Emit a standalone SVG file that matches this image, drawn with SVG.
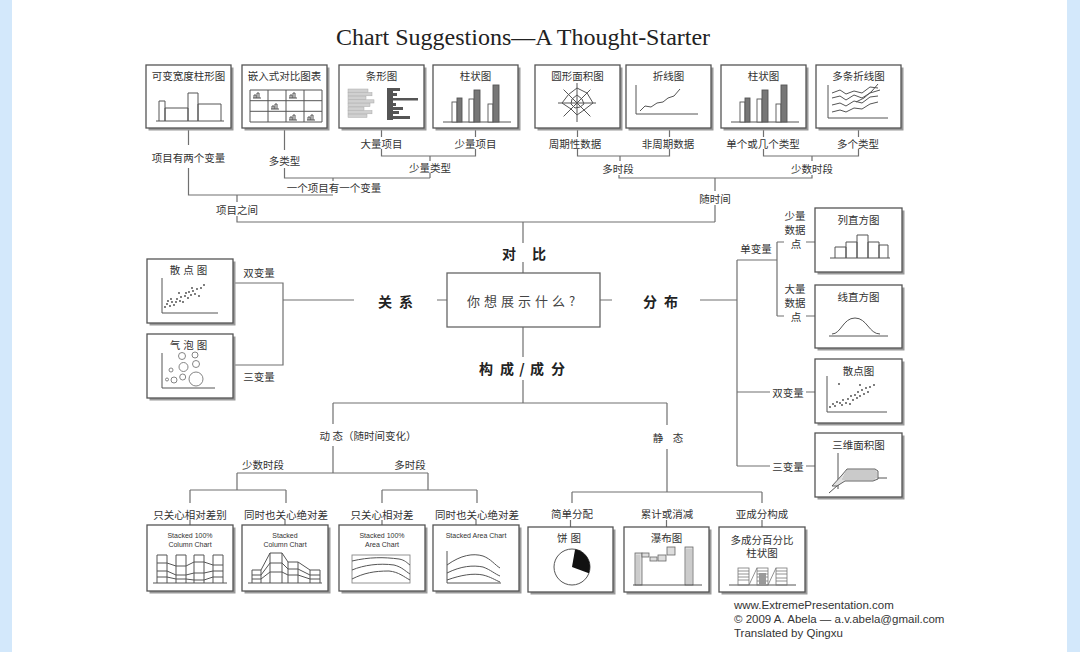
<svg xmlns="http://www.w3.org/2000/svg" width="1080" height="652" viewBox="0 0 1080 652">
<style>
.card{fill:#fff;stroke:#555;stroke-width:1.3}
.sh{fill:#9a9a9a}
.ln{fill:none;stroke:#707070;stroke-width:1.2}
.ic{fill:none;stroke:#555;stroke-width:1}
.lbl{font-family:"Noto Sans CJK SC","Noto Sans",sans-serif;font-size:10.5px;fill:#333;text-anchor:middle;dominant-baseline:central}
.bt{font-family:"Noto Sans CJK SC","Noto Sans",sans-serif;font-size:10.5px;fill:#333;text-anchor:middle;dominant-baseline:central}
.en{font-family:"Liberation Sans",sans-serif;font-size:7px;fill:#333;text-anchor:middle;dominant-baseline:central}
.cat{font-family:"Noto Sans CJK SC",sans-serif;font-size:14px;font-weight:bold;fill:#222;text-anchor:middle;dominant-baseline:central}
.dot{fill:#444}
.cr{font-family:"Liberation Sans",sans-serif;font-size:11.5px;fill:#333}
</style>
<rect width="1080" height="652" fill="#fff"/>
<rect x="0" y="0" width="12" height="652" fill="#d3e8fb"/>
<rect x="1067" y="0" width="13" height="652" fill="#d3e8fb"/>
<text x="523" y="45" text-anchor="middle" font-family="Liberation Serif,serif" font-size="24" fill="#222">Chart Suggestions—A Thought-Starter</text>

<g id="connectors">
<path class="ln" d="M188.5 128V145M188.5 168V195H333M284.5 128V150M284.5 168V178H430M381.5 128V137M381.5 149V156H475.5V149M475.5 128V137M430 156V161M430 173V178M333 178V181M237 195V202M237 216V222H715M523 222V243M523 262V273"/>
<path class="ln" d="M577.5 128V137M577.5 149V156H669.5V149M669.5 128V137M620 156V161M763.5 128V137M763.5 149V156H858.5V149M858.5 128V137M812 156V161M619 175V178H812V175M715 178V191M715 205V222"/>
<path class="ln" d="M523 327V357M523 380V403M333 403H667M333 403V424M333 446V473M237 473H428M237 473V490M190 490H286M190 490V503M286 490V503M428 473V490M382 490H477M382 490V503M477 490V503M190 520V525M285 520V525M382 520V525M476 520V525"/>
<path class="ln" d="M667 403V425M667 449V492M572 492H762M572 492V503M762 492V503M570.5 520V527M666.5 520V527M762 520V527"/>
<path class="ln" d="M233 283H283V365H233M283 300H354M437 300H447"/>
<path class="ln" d="M600 300H612M700 300H737M737 260V466M737 260H777M777 242V316M777 242H784M777 316H784M806 242H815M806 316H815M737 392H770M806 392H815M737 466H770M806 466H815"/>
</g>

<g id="labels">
<text class="lbl" x="188.5" y="157">项目有两个变量</text>
<text class="lbl" x="284.5" y="160">多类型</text>
<text class="lbl" x="381.5" y="143">大量项目</text>
<text class="lbl" x="475.5" y="143">少量项目</text>
<text class="lbl" x="430" y="167">少量类型</text>
<text class="lbl" x="334" y="187">一个项目有一个变量</text>
<text class="lbl" x="237" y="209">项目之间</text>
<text class="lbl" x="575" y="143">周期性数据</text>
<text class="lbl" x="668" y="143">非周期数据</text>
<text class="lbl" x="763" y="143">单个或几个类型</text>
<text class="lbl" x="858" y="143">多个类型</text>
<text class="lbl" x="618" y="168">多时段</text>
<text class="lbl" x="812" y="168">少数时段</text>
<text class="lbl" x="715" y="198">随时间</text>
<text class="cat"><tspan x="509" y="253">对</tspan><tspan x="539" y="253">比</tspan></text>
<text class="cat"><tspan x="385" y="301">关</tspan><tspan x="406" y="301">系</tspan></text>
<text class="cat"><tspan x="650" y="301">分</tspan><tspan x="671" y="301">布</tspan></text>
<text class="cat"><tspan x="486" y="368">构</tspan><tspan x="507" y="368">成</tspan><tspan x="522" y="368">/</tspan><tspan x="537" y="368">成</tspan><tspan x="558" y="368">分</tspan></text>
<text class="lbl" x="259" y="272">双变量</text>
<text class="lbl" x="259" y="376">三变量</text>
<text class="lbl" x="756" y="248">单变量</text>
<text class="lbl" x="795" y="215">少量</text>
<text class="lbl" x="795" y="229">数据</text>
<text class="lbl" x="796" y="243">点</text>
<text class="lbl" x="795" y="288">大量</text>
<text class="lbl" x="795" y="302">数据</text>
<text class="lbl" x="796" y="316">点</text>
<text class="lbl" x="788" y="392">双变量</text>
<text class="lbl" x="788" y="466">三变量</text>
<text class="lbl" x="368" y="435">动 态（随时间变化）</text>
<text class="lbl"><tspan x="658" y="437">静</tspan><tspan x="678" y="437">态</tspan></text>
<text class="lbl" x="263" y="464">少数时段</text>
<text class="lbl" x="410" y="464">多时段</text>
<text class="lbl" x="190" y="514">只关心相对差别</text>
<text class="lbl" x="286" y="514">同时也关心绝对差</text>
<text class="lbl" x="382" y="514">只关心相对差</text>
<text class="lbl" x="477" y="514">同时也关心绝对差</text>
<text class="lbl" x="572" y="513">简单分配</text>
<text class="lbl" x="667" y="513">累计或消减</text>
<text class="lbl" x="762" y="513">亚成分构成</text>
</g>

<g id="n-center">
<rect x="447" y="273" width="153" height="54" fill="#fff" stroke="#666" stroke-width="1.3"/>
<text x="523" y="300" text-anchor="middle" dominant-baseline="central" font-family="Noto Sans CJK SC,sans-serif" font-size="13" letter-spacing="4" fill="#444">你想展示什么?</text>
</g>

<g id="n-varwidth" transform="translate(146,65)">
<rect class="sh" x="2.5" y="2.5" width="85" height="63"/><rect class="card" width="85" height="63"/>
<text class="bt" x="42.5" y="10">可变宽度柱形图</text>
<path class="ic" d="M10 56H78M13 56V36H19V56M19 56V43H42V56M42 56V28H52V56M52 56V39H75V56"/>
</g>
<g id="n-embedded" transform="translate(242,65)">
<rect class="sh" x="2.5" y="2.5" width="85" height="63"/><rect class="card" width="85" height="63"/>
<text class="bt" x="42.5" y="10">嵌入式对比图表</text>
<path class="ic" stroke-width="0.8" d="M8 25H80V57H8ZM26 25V57M44 25V57M62 25V57M8 35.7H80M8 46.3H80"/>
<path class="ic" stroke-width="0.7" d="M11 33H19M12 33V30H14V33M15 33V28H17V33M47 33H55M48 33V30H50V33M51 33V28H53V33M29 44H37M30 44V41H32V44M33 44V39H35V44M47 55H55M48 55V52H50V55M51 55V50H53V55M65 55H73M66 55V52H68V55M69 55V50H71V55"/>
</g>
<g id="n-bar" transform="translate(339,65)">
<rect class="sh" x="2.5" y="2.5" width="85" height="63"/><rect class="card" width="85" height="63"/>
<text class="bt" x="42.5" y="10">条形图</text>
<g fill="#d0d0d0" stroke="#aaa" stroke-width="0.5">
<rect x="9" y="24" width="20" height="3.2"/><rect x="9" y="27.6" width="24" height="3.2"/><rect x="9" y="31.2" width="18" height="3.2"/><rect x="9" y="34.8" width="26" height="3.2"/><rect x="9" y="38.4" width="22" height="3.2"/><rect x="9" y="42" width="16" height="3.2"/><rect x="9" y="45.6" width="24" height="3.2"/><rect x="9" y="49.2" width="19" height="3.2"/>
</g>
<g fill="#555">
<rect x="48" y="23" width="6" height="32"/><rect x="48" y="23" width="13" height="3"/><rect x="48" y="28" width="10" height="3"/><rect x="48" y="33" width="31" height="2.5"/><rect x="48" y="38" width="9" height="3"/><rect x="48" y="42" width="16" height="3"/><rect x="48" y="46" width="12" height="3"/><rect x="48" y="51" width="23" height="3"/>
</g>
</g>
<g id="n-column1" transform="translate(433,65)">
<rect class="sh" x="2.5" y="2.5" width="85" height="63"/><rect class="card" width="85" height="63"/>
<text class="bt" x="42.5" y="10">柱状图</text>
<path class="ic" d="M10 57H78"/>
<g stroke="#555" stroke-width="0.9"><rect x="19" y="37" width="5" height="20" fill="#fff"/><rect x="24" y="33" width="5" height="24" fill="#777"/><rect x="36" y="34" width="5" height="23" fill="#fff"/><rect x="41" y="25" width="6" height="32" fill="#777"/><rect x="55" y="39" width="5" height="18" fill="#fff"/><rect x="60" y="20" width="6" height="37" fill="#777"/></g>
</g>
<g id="n-radar" transform="translate(535,65)">
<rect class="sh" x="2.5" y="2.5" width="85" height="63"/><rect class="card" width="85" height="63"/>
<text class="bt" x="42.5" y="10">圆形面积图</text>
<path class="ic" stroke-width="0.8" d="M42 38L42 18M42 38L55.4 24.6M42 38L61 38M42 38L55.4 51.4M42 38L42 57M42 38L28.6 51.4M42 38L23 38M42 38L28.6 24.6"/>
<path class="ic" d="M42 23L52 28L58 38L49 45L42 50L36 44L27 38L33.5 29.5Z"/>
<path class="ic" stroke-width="0.6" d="M42 30L47 34L49 39L45 42L40 43L36 39L37 34Z"/>
</g>
<g id="n-line" transform="translate(626,65)">
<rect class="sh" x="2.5" y="2.5" width="85" height="63"/><rect class="card" width="85" height="63"/>
<text class="bt" x="42.5" y="10">折线图</text>
<path class="ic" d="M10 20V49H72"/>
<polyline class="ic" points="14,46 19,41 25,42 31,38 37,37 42,33 48,31 54,24"/>
</g>
<g id="n-column2" transform="translate(721,65)">
<rect class="sh" x="2.5" y="2.5" width="85" height="63"/><rect class="card" width="85" height="63"/>
<text class="bt" x="42.5" y="10">柱状图</text>
<path class="ic" d="M10 57H78"/>
<g stroke="#555" stroke-width="0.9"><rect x="19" y="37" width="5" height="20" fill="#fff"/><rect x="24" y="33" width="5" height="24" fill="#777"/><rect x="36" y="34" width="5" height="23" fill="#fff"/><rect x="41" y="25" width="6" height="32" fill="#777"/><rect x="55" y="39" width="5" height="18" fill="#fff"/><rect x="60" y="20" width="6" height="37" fill="#777"/></g>
</g>
<g id="n-multiline" transform="translate(816,65)">
<rect class="sh" x="2.5" y="2.5" width="85" height="63"/><rect class="card" width="85" height="63"/>
<text class="bt" x="42.5" y="10">多条折线图</text>
<path class="ic" d="M12 20V53H72"/>
<g class="ic" stroke-width="0.9">
<polyline points="16,28 24,25 30,29 38,26 46,28 54,22 62,23"/>
<polyline points="16,33 24,31 30,35 38,30 46,33 54,28 64,25"/>
<polyline points="16,40 24,38 30,41 38,36 46,38 54,32 62,31"/>
<polyline points="16,47 24,45 30,47 38,43 46,44 54,39 62,37"/>
<polyline points="40,37 48,33 56,26 62,19"/>
</g>
</g>

<g id="n-scatter1" transform="translate(147,259)">
<rect class="sh" x="2.5" y="2.5" width="86" height="64"/><rect class="card" width="86" height="64"/>
<text class="bt" x="43" y="10" letter-spacing="3">散点图</text>
<path class="ic" d="M15 19V54H71"/>
<g class="dot">
<circle cx="18" cy="48" r="0.9"/><circle cx="20" cy="45" r="0.9"/><circle cx="23" cy="47" r="0.9"/><circle cx="25" cy="43" r="0.9"/><circle cx="27" cy="46" r="0.9"/><circle cx="29" cy="43" r="0.9"/><circle cx="30" cy="40" r="0.9"/><circle cx="33" cy="42" r="0.9"/><circle cx="34" cy="38" r="0.9"/><circle cx="36" cy="43" r="0.9"/><circle cx="38" cy="37" r="0.9"/><circle cx="39" cy="34" r="0.9"/><circle cx="41" cy="39" r="0.9"/><circle cx="42" cy="33" r="0.9"/><circle cx="44" cy="36" r="0.9"/><circle cx="46" cy="32" r="0.9"/><circle cx="48" cy="35" r="0.9"/><circle cx="50" cy="30" r="0.9"/><circle cx="52" cy="37" r="0.9"/><circle cx="54" cy="29" r="0.9"/><circle cx="45" cy="29" r="0.9"/><circle cx="32" cy="34" r="0.9"/><circle cx="24" cy="40" r="0.9"/><circle cx="57" cy="26" r="0.9"/><circle cx="21" cy="42" r="0.9"/>
</g>
</g>
<g id="n-bubble" transform="translate(147,334)">
<rect class="sh" x="2.5" y="2.5" width="86" height="64"/><rect class="card" width="86" height="64"/>
<text class="bt" x="43" y="10" letter-spacing="3">气泡图</text>
<path class="ic" stroke="#888" d="M15 19V54H68"/>
<g fill="none" stroke="#777" stroke-width="0.9">
<circle cx="35" cy="22" r="3.5"/><circle cx="48" cy="21" r="3"/><circle cx="36.5" cy="33" r="4.5"/><circle cx="49" cy="30" r="3.5"/><circle cx="24" cy="36" r="2"/><circle cx="35.7" cy="43" r="3"/><circle cx="49" cy="45" r="7"/><circle cx="27" cy="46" r="3"/><circle cx="20" cy="45.5" r="1.5"/>
</g>
</g>

<g id="n-hist1" transform="translate(815,208)">
<rect class="sh" x="2.5" y="2.5" width="87" height="64"/><rect class="card" width="87" height="64"/>
<text class="bt" x="43.5" y="11">列直方图</text>
<path class="ic" d="M15 50H75M20 50V39H31V50M31 50V34H42V50M42 50V27H53V50M53 50V34H64V50M64 50V37H73V50"/>
</g>
<g id="n-hist2" transform="translate(815,285)">
<rect class="sh" x="2.5" y="2.5" width="87" height="63"/><rect class="card" width="87" height="63"/>
<text class="bt" x="43.5" y="11">线直方图</text>
<path class="ic" d="M14 51H73"/>
<path class="ic" d="M17 49C26 49 28 33 40 33C52 33 54 49 65 49"/>
</g>
<g id="n-scatter2" transform="translate(815,359)">
<rect class="sh" x="2.5" y="2.5" width="87" height="64"/><rect class="card" width="87" height="64"/>
<text class="bt" x="43.5" y="11">散点图</text>
<path class="ic" d="M12 17V53H72"/>
<g class="dot">
<circle cx="15" cy="48" r="0.9"/><circle cx="18" cy="45" r="0.9"/><circle cx="20" cy="47" r="0.9"/><circle cx="22" cy="43" r="0.9"/><circle cx="25" cy="44" r="0.9"/><circle cx="28" cy="41" r="0.9"/><circle cx="27" cy="46" r="0.9"/><circle cx="31" cy="44" r="0.9"/><circle cx="33" cy="40" r="0.9"/><circle cx="35" cy="45" r="0.9"/><circle cx="36" cy="37" r="0.9"/><circle cx="38" cy="41" r="0.9"/><circle cx="40" cy="36" r="0.9"/><circle cx="42" cy="39" r="0.9"/><circle cx="43" cy="33" r="0.9"/><circle cx="45" cy="37" r="0.9"/><circle cx="47" cy="31" r="0.9"/><circle cx="49" cy="35" r="0.9"/><circle cx="51" cy="29" r="0.9"/><circle cx="53" cy="33" r="0.9"/><circle cx="55" cy="28" r="0.9"/><circle cx="24" cy="25" r="0.9"/><circle cx="45" cy="26" r="0.9"/><circle cx="59" cy="26" r="0.9"/>
</g>
</g>
<g id="n-area3d" transform="translate(815,433)">
<rect class="sh" x="2.5" y="2.5" width="87" height="64"/><rect class="card" width="87" height="64"/>
<text class="bt" x="43.5" y="11">三维面积图</text>
<path class="ic" stroke="#777" d="M23 20V56M14 60L32 44M32 45H72"/>
<path d="M17 53L27 42L32 36H60L63 38V46L58 48H30L22 53Z" fill="#e0e0e0" stroke="#555" stroke-width="0.9"/>
<path stroke="#888" stroke-width="0.5" d="M31 38H61M30 40H62M29 42H62M28 44H62M27 46H60"/>
</g>

<g id="n-stack100col" transform="translate(147,525)">
<rect class="sh" x="2.5" y="2.5" width="86" height="66"/><rect class="card" width="86" height="66"/>
<text class="en" x="43" y="10">Stacked 100%</text>
<text class="en" x="43" y="19">Column Chart</text>
<path class="ic" stroke-width="0.9" d="M6 58H80M10 58V30H20V58M29 58V30H39V58M47 58V30H57V58M66 58V30H76V58M10 38H20L29 41H39L47 37H57L66 40H76M10 46H20L29 50H39L47 48H57L66 46H76M10 52H20L29 54H39L47 55H57L66 52H76"/>
</g>
<g id="n-stackcol" transform="translate(242,525)">
<rect class="sh" x="2.5" y="2.5" width="86" height="66"/><rect class="card" width="86" height="66"/>
<text class="en" x="43" y="10">Stacked</text>
<text class="en" x="43" y="19">Column Chart</text>
<path class="ic" stroke-width="0.9" d="M6 58H80M10 58V45H19V58M28 58V28H40V58M46 58V37H56V58M68 58V45H78V58M10 50H19L28 38H40L46 44H56L68 50H78M10 54H19L28 47H40L46 50H56L68 54H78M19 45L28 28M40 28L46 37M56 37L68 45"/>
</g>
<g id="n-stack100area" transform="translate(339,525)">
<rect class="sh" x="2.5" y="2.5" width="86" height="66"/><rect class="card" width="86" height="66"/>
<text class="en" x="43" y="10">Stacked 100%</text>
<text class="en" x="43" y="19">Area Chart</text>
<rect x="13" y="30" width="58" height="28" fill="none" stroke="#888" stroke-width="0.9"/>
<path class="ic" stroke-width="1.1" d="M13 36C30 32 45 32 60 34C66 35 68 38 71 40M13 45C25 40 40 38 55 40C63 42 66 46 71 49M13 54C25 48 35 46 50 46C60 47 65 52 71 55"/>
</g>
<g id="n-stackarea" transform="translate(433,525)">
<rect class="sh" x="2.5" y="2.5" width="86" height="66"/><rect class="card" width="86" height="66"/>
<text class="en" x="43" y="10">Stacked Area Chart</text>
<path class="ic" stroke="#888" d="M14 26V58H68"/>
<path class="ic" stroke-width="1.1" d="M14 40C28 30 40 28 50 31C58 34 62 40 67 43M14 48C28 41 40 40 50 42C58 45 62 49 67 51M14 55C28 50 40 48 50 50C58 52 62 55 67 57"/>
</g>
<g id="n-pie" transform="translate(528,527)">
<rect class="sh" x="2.5" y="2.5" width="85" height="65"/><rect class="card" width="85" height="65"/>
<text class="bt" x="42.5" y="10" letter-spacing="3">饼图</text>
<circle cx="44" cy="40" r="18" fill="#fff" stroke="#555" stroke-width="1"/>
<path d="M44 40L47.1 22.3A18 18 0 0 1 60.9 46.2Z" fill="#111"/>
</g>
<g id="n-waterfall" transform="translate(624,527)">
<rect class="sh" x="2.5" y="2.5" width="85" height="65"/><rect class="card" width="85" height="65"/>
<text class="bt" x="42.5" y="10">瀑布图</text>
<g fill="#ddd" stroke="#666" stroke-width="0.8">
<rect x="11" y="26" width="7" height="32"/><rect x="18" y="26" width="7" height="4"/><rect x="26" y="30" width="7" height="4"/><rect x="34" y="28" width="8" height="6"/><rect x="43" y="20" width="8" height="8"/><rect x="61" y="20" width="8" height="38"/>
</g>
<path class="ic" stroke="#888" d="M9 58H78"/>
<path stroke="#999" stroke-width="0.5" d="M13 28V58M15 28V58M63 22V58M65 22V58M67 22V58"/>
</g>
<g id="n-stackpct" transform="translate(719,527)">
<rect class="sh" x="2.5" y="2.5" width="86" height="65"/><rect class="card" width="86" height="65"/>
<text class="bt" x="43" y="12">多成分百分比</text>
<text class="bt" x="43" y="25">柱状图</text>
<path class="ic" stroke="#888" d="M10 58H77"/>
<g fill="none" stroke="#777" stroke-width="0.8">
<rect x="19" y="41" width="11" height="17"/><rect x="38" y="41" width="11" height="17"/><rect x="57" y="41" width="11" height="17"/>
<path d="M19 44H30M19 47H30M19 50H30M19 53H30M38 44H49M38 47H49M38 50H49M38 54H49M57 44H68M57 47H68M57 51H68M57 54H68M30 58L38 41M49 58L57 41"/>
</g>
<rect x="40" y="46" width="7" height="11" fill="#999"/>
</g>

<g id="credits">
<text class="cr" x="734" y="609">www.ExtremePresentation.com</text>
<text class="cr" x="734" y="623">© 2009 A. Abela — a.v.abela@gmail.com</text>
<text class="cr" x="734" y="637">Translated by Qingxu</text>
</g>
</svg>
